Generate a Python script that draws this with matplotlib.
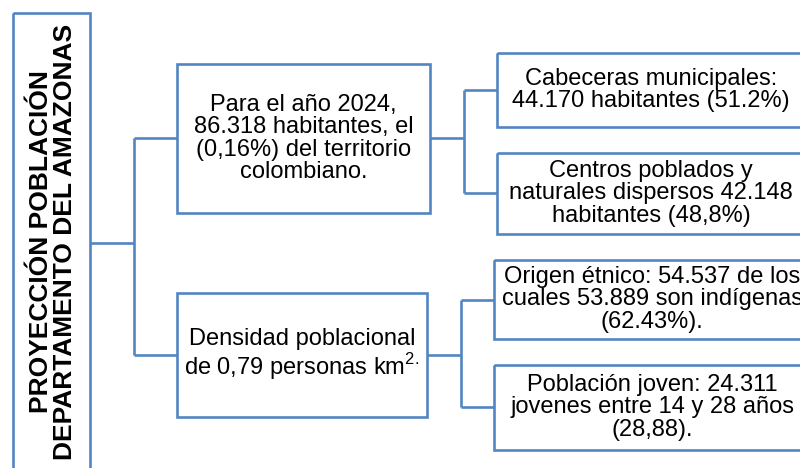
import matplotlib.pyplot as plt
from matplotlib.patches import Rectangle

plt.rcParams['font.family'] = ['Liberation Sans', 'DejaVu Sans']
plt.rcParams['mathtext.fontset'] = 'custom'
plt.rcParams['mathtext.rm'] = 'Liberation Sans'

title_text = "PROYECCIÓN POBLACIÓN\nDEPARTAMENTO DEL AMAZONAS"
level1_texts = [
    "Para el año 2024,\n86.318 habitantes, el\n(0,16%) del territorio\ncolombiano.",
    "Densidad poblacional\nde 0,79 personas km$^{\\mathrm{2.}}$",
]
level2_texts = [
    "Cabeceras municipales:\n44.170 habitantes (51.2%)",
    "Centros poblados y\nnaturales dispersos 42.148\nhabitantes (48,8%)",
    "Origen étnico: 54.537 de los\ncuales 53.889 son indígenas\n(62.43%).",
    "Población joven: 24.311\njovenes entre 14 y 28 años\n(28,88).",
]

blue = '#5286C2'
lw = 1.9

fig = plt.figure(figsize=(8, 4.68), dpi=100)
ax = fig.add_axes([0, 0, 1, 1])
ax.set_xlim(0, 800)
ax.set_ylim(468, 0)
ax.axis('off')


def box(x0, y0, x1, y1):
    ax.add_patch(Rectangle((x0, y0), x1 - x0, y1 - y0, fill=False,
                           edgecolor=blue, lw=lw, clip_on=True))


def line(xs, ys):
    ax.plot(xs, ys, color=blue, lw=lw, solid_capstyle='butt')


# title box
box(13, 13, 90, 480)
ax.text(53, 242, title_text, rotation=90, ha='center', va='center',
        fontsize=19, fontweight='bold', linespacing=1.05, multialignment='center')

# connectors from title
line([90, 134], [243, 243])
line([134, 134], [138, 355])
line([134, 177], [138, 138])
line([134, 177], [355, 355])

# level 1 boxes
l1_boxes = [(177, 64, 430, 213), (177, 293, 427, 417)]
for (x0, y0, x1, y1), t in zip(l1_boxes, level1_texts):
    box(x0, y0, x1, y1)
    ax.text((x0 + x1) / 2, (y0 + y1) / 2, t, ha='center', va='center',
            fontsize=17, linespacing=1.02, multialignment='center')

# connectors to level 2
line([430, 464], [138, 138])
line([464, 464], [90, 193])
line([464, 497], [90, 90])
line([464, 497], [193, 193])
line([427, 461], [355, 355])
line([461, 461], [300, 407])
line([461, 494], [300, 300])
line([461, 494], [407, 407])

# level 2 boxes
l2_boxes = [(497, 53, 805, 127), (497, 153, 805, 234),
            (494, 260, 810, 339), (494, 365, 810, 450)]
for (x0, y0, x1, y1), t in zip(l2_boxes, level2_texts):
    box(x0, y0, x1, y1)
    ax.text((x0 + x1) / 2, (y0 + y1) / 2, t, ha='center', va='center',
            fontsize=17, linespacing=1.02, multialignment='center')

fig.savefig('out.png', dpi=100)
